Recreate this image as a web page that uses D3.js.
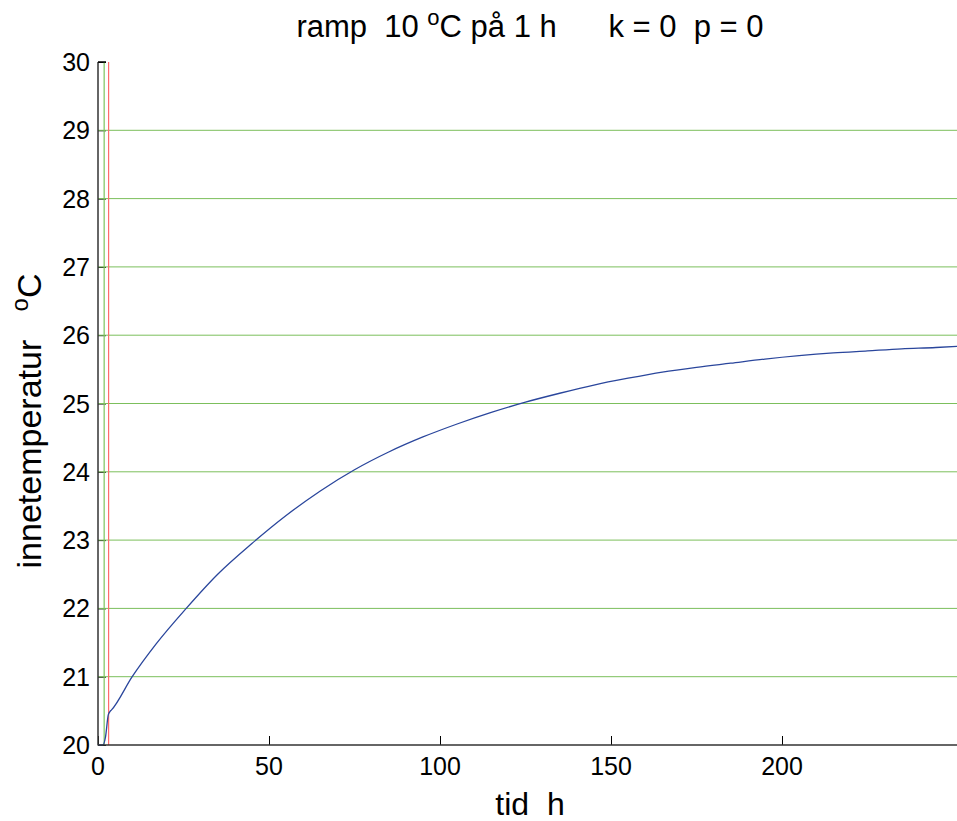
<!DOCTYPE html>
<html><head><meta charset="utf-8">
<script src="https://cdn.jsdelivr.net/npm/d3@7"></script>
<style>body{margin:0;background:#fff}svg{display:block}text{white-space:pre}</style>
</head><body>
<script>
// time (h) and indoor temperature (°C)
const timeH = [0, 1.4, 2.2, 3.0, 3.5, 3.9, 10, 17, 25.8, 35, 45, 55, 65, 75, 85, 95, 105, 115, 125, 135, 145, 155, 165, 175, 185, 195, 205, 215, 225, 235, 245, 252];
const tempC = [20, 20, 20.12, 20.44, 20.49, 20.51, 21.0, 21.48, 22.0, 22.5, 22.95, 23.36, 23.72, 24.03, 24.29, 24.51, 24.70, 24.87, 25.02, 25.15, 25.27, 25.37, 25.46, 25.53, 25.59, 25.65, 25.70, 25.74, 25.77, 25.80, 25.82, 25.84];
const xTicks = [0, 50, 100, 150, 200];
const yTicks = [20, 21, 22, 23, 24, 25, 26, 27, 28, 29, 30];
const markerTimes = [1.8, 3.1];
const markerColors = ["#7cc45c", "#ff6b6b"];

const W = 957, H = 821;
const L = 98, T = 62, B = 745, R = 957;
const svg = d3.select("body").append("svg").attr("width", W).attr("height", H)
  .style("font-family", "Arial, 'Liberation Sans', sans-serif");

const x = d3.scaleLinear().domain([0, (R - L) / 3.42]).range([L, R]);
const y = d3.scaleLinear().domain([20, 30]).range([B, T]);

// y ticks (inward, black)
svg.append("g").attr("transform", `translate(${L},0)`)
  .call(d3.axisRight(y).tickValues(yTicks).tickSize(8).tickFormat(""))
  .call(g => g.select(".domain").remove())
  .selectAll("line").attr("stroke", "#000");
// x ticks (inward)
svg.append("g").attr("transform", `translate(0,${B})`)
  .call(d3.axisTop(x).tickValues(xTicks).tickSize(9).tickFormat(""))
  .call(g => g.select(".domain").remove())
  .selectAll("line").attr("stroke", "#000");

// grid lines
svg.append("g").selectAll("line").data(yTicks.filter(v => v > 20 && v < 30)).join("line")
  .attr("x1", L).attr("x2", R).attr("y1", d => y(d)).attr("y2", d => y(d))
  .attr("stroke", "#7cbf5c").attr("stroke-width", 1);

// marker vertical lines
svg.append("g").selectAll("line").data(markerTimes).join("line")
  .attr("x1", d => x(d)).attr("x2", d => x(d)).attr("y1", T).attr("y2", B)
  .attr("stroke", (d, i) => markerColors[i]).attr("stroke-width", 1.2);

// curve
const data = timeH.map((t, i) => [t, tempC[i]]);
svg.append("path").datum(data)
  .attr("fill", "none").attr("stroke", "#2a469c").attr("stroke-width", 1.3)
  .attr("d", d3.line().x(d => x(d[0])).y(d => y(d[1])).curve(d3.curveMonotoneX));

// axes lines
svg.append("line").attr("x1", L).attr("x2", L).attr("y1", T).attr("y2", B + 0.5)
  .attr("stroke", "#333").attr("stroke-width", 1.5);
svg.append("line").attr("x1", L).attr("x2", R).attr("y1", B).attr("y2", B)
  .attr("stroke", "#333").attr("stroke-width", 1.5);
svg.append("line").attr("x1", L).attr("x2", L + 8).attr("y1", T).attr("y2", T)
  .attr("stroke", "#000").attr("stroke-width", 1.5);

// tick labels
svg.append("g").selectAll("text").data(yTicks).join("text")
  .attr("x", L - 8).attr("y", d => y(d)).attr("dy", "0.36em")
  .attr("text-anchor", "end").attr("font-size", 25).text(d => d);
svg.append("g").selectAll("text").data(xTicks).join("text")
  .attr("x", d => x(d)).attr("y", B + 30)
  .attr("text-anchor", "middle").attr("font-size", 25).text(d => d);

// title
const title = svg.append("text").attr("x", 530).attr("y", 37).attr("text-anchor", "middle").attr("font-size", 31);
title.append("tspan").text("ramp  10 ");
title.append("tspan").attr("dy", -12).attr("font-size", 22).text("o");
title.append("tspan").attr("dy", 12).text("C på 1 h      k = 0  p = 0");

// x label
svg.append("text").attr("x", 530).attr("y", 815).attr("text-anchor", "middle").attr("font-size", 32).text("tid  h");

// y label
const yl = svg.append("text").attr("transform", "translate(41,421) rotate(-90)")
  .attr("text-anchor", "middle").attr("font-size", 34);
yl.append("tspan").text("innetemperatur   ");
yl.append("tspan").attr("dy", -13).attr("font-size", 24).text("o");
yl.append("tspan").attr("dy", 13).text("C");
</script>
</body></html>
